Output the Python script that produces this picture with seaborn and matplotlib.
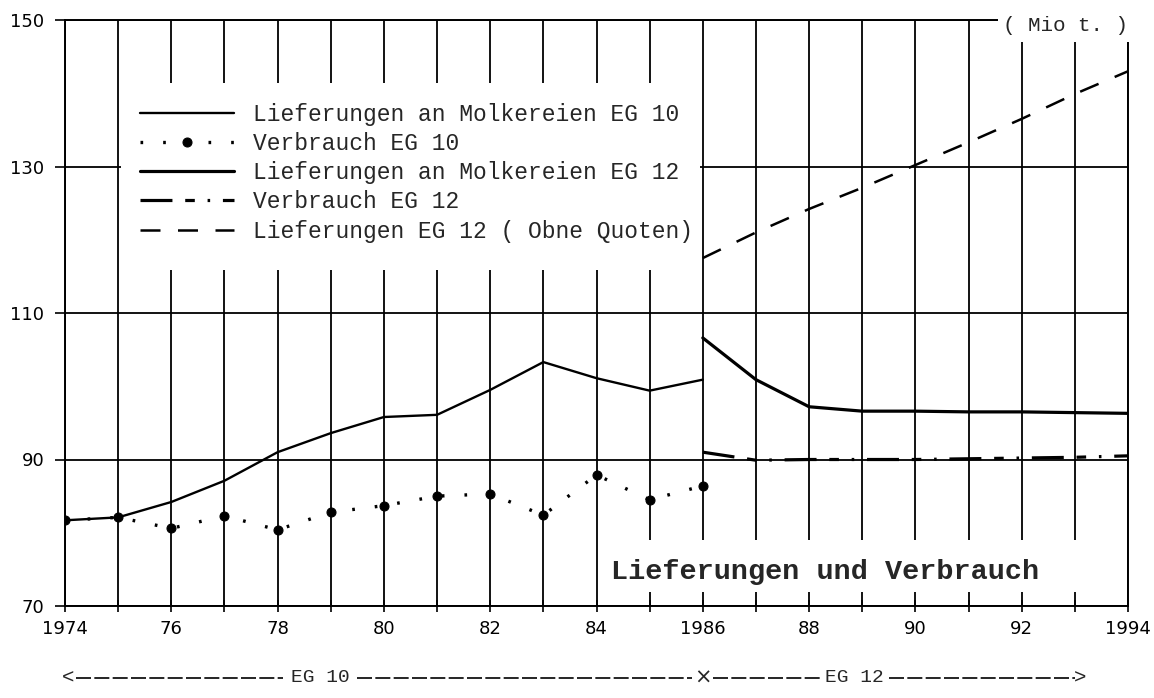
import numpy as np
import pandas as pd
import matplotlib
import matplotlib.pyplot as plt
from matplotlib.patches import Rectangle
import seaborn as sns

sns.set_style("ticks")
matplotlib.rcParams['font.family'] = ['DejaVu Sans']
mono = 'Liberation Mono'

# == data (Mio t.)
years_eg10 = [1974, 1975, 1976, 1977, 1978, 1979, 1980, 1981, 1982, 1983, 1984, 1985, 1986]
lief_eg10 = [81.7, 82.1, 84.2, 87.1, 91.0, 93.6, 95.8, 96.1, 99.5, 103.3, 101.1, 99.4, 100.9]
verb_eg10 = [81.7, 82.1, 80.6, 82.3, 80.4, 82.8, 83.7, 85.0, 85.3, 82.4, 87.9, 84.5, 86.4]

years_eg12 = [1986, 1987, 1988, 1989, 1990, 1991, 1992, 1993, 1994]
lief_eg12 = [106.6, 100.9, 97.2, 96.6, 96.6, 96.5, 96.5, 96.4, 96.3]
verb_eg12 = [91.0, 89.9, 90.0, 90.0, 90.0, 90.1, 90.2, 90.3, 90.5]
lief_ohne_quoten = [117.5, 121.0, 124.2, 127.1, 130.2, 133.3, 136.5, 139.9, 143.0]

labels = ['Lieferungen an Molkereien EG 10', 'Verbrauch EG 10',
          'Lieferungen an Molkereien EG 12', 'Verbrauch EG 12',
          'Lieferungen EG 12 ( Obne Quoten)']
xtick_labels = ['1974', '', '76', '', '78', '', '80', '', '82', '', '84', '',
                '1986', '', '88', '', '90', '', '92', '', '1994']
yticks = [70, 90, 110, 130, 150]

fig = plt.figure(figsize=(11.54, 6.98), dpi=100)
ax = fig.add_axes([65/1154, 1-606/698, (1128-65)/1154, (606-20)/698])

# ==== series
sns.lineplot(x=years_eg10, y=lief_eg10, color='k', lw=1.7, ax=ax, label=labels[0], zorder=3)
sns.lineplot(x=years_eg10, y=verb_eg10, color='k', lw=2.4, ls=(0, (0.8, 6)),
             marker='o', ms=6.5, mec='k', mfc='k', ax=ax, label=labels[1], zorder=3)
sns.lineplot(x=years_eg12, y=lief_eg12, color='k', lw=2.3, ax=ax, label=labels[2], zorder=3)
sns.lineplot(x=years_eg12, y=verb_eg12, color='k', lw=2.3, ls=(0, (10, 4, 3, 4, 0.8, 4)),
             ax=ax, label=labels[3], zorder=3)
sns.lineplot(x=years_eg12, y=lief_ohne_quoten, color='k', lw=1.8, ls=(0, (8, 7)),
             ax=ax, label=labels[4], zorder=3)

ax.set_xlim(1974, 1994)
ax.set_ylim(70, 150)
ax.set_xticks(np.arange(1974, 1995))
ax.set_xticklabels(xtick_labels)
ax.set_yticks(yticks)
ax.tick_params(axis='x', direction='inout', length=8, width=1.2, labelsize=13, pad=6, colors='k')
ax.tick_params(axis='y', direction='out', length=7, width=1.2, labelsize=13, pad=8, colors='k')
ax.set_xlabel('')
ax.set_ylabel('')
ax.set_axisbelow(True)
ax.grid(True, color='k', lw=1.3)
for s in ax.spines.values():
    s.set_color('k')
    s.set_linewidth(1.4)

# white boxes that hide the grid (legend, title, unit)
ax.add_patch(Rectangle((1975.06, 115.9), 10.88, 25.5, fc='w', ec='none', zorder=1))
ax.add_patch(Rectangle((1984.06, 71.9), 9.88, 7.1, fc='w', ec='none', zorder=1))
ax.add_patch(Rectangle((1991.55, 147.0), 3.0, 6.0, fc='w', ec='none', zorder=4, clip_on=False))

h, l = ax.get_legend_handles_labels()
ax.legend(h, l, loc='upper left', bbox_to_anchor=(1975.41, 138.7), bbox_transform=ax.transData,
          frameon=False, borderpad=0, borderaxespad=0, handlelength=4.1, handletextpad=0.85,
          labelspacing=0.27, prop={'family': mono, 'size': 16.5})

ax.text(1988.3, 74.6, 'Lieferungen und Verbrauch', family=mono, weight='bold', fontsize=20.5,
        ha='center', va='center', zorder=5)
ax.text(1991.65, 149.3, '( Mio t. )', family=mono, fontsize=15, ha='left', va='center',
        zorder=5, clip_on=False)

# EG 10 / EG 12 span below the axis
yb = 60.2
seg = dict(color='k', lw=1.2, ls=(0, (9, 2)), clip_on=False, transform=ax.transData)
ax.plot([1974.2, 1978.1], [yb, yb], **seg)
ax.plot([1979.5, 1985.8], [yb, yb], **seg)
ax.plot([1986.2, 1988.2], [yb, yb], **seg)
ax.plot([1989.5, 1993.0], [yb, yb], **seg)
ax.text(1974.05, yb, '<', family=mono, fontsize=15, ha='center', va='center', clip_on=False)
ax.text(1993.1, yb, '>', family=mono, fontsize=15, ha='center', va='center', clip_on=False)
ax.text(1986.0, yb, '×', family='DejaVu Sans', fontsize=15, ha='center', va='center', clip_on=False)
ax.text(1978.8, yb, 'EG 10', family=mono, fontsize=14, ha='center', va='center', clip_on=False)
ax.text(1988.85, yb, 'EG 12', family=mono, fontsize=14, ha='center', va='center', clip_on=False)

plt.savefig('out.png', dpi=100)
